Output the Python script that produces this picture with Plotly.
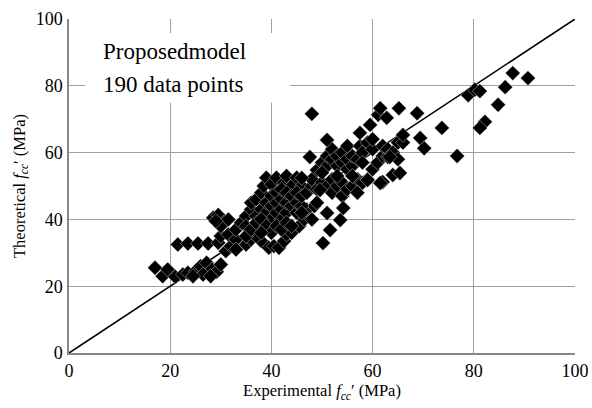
import plotly.graph_objects as go

# Experimental vs theoretical f_cc' (MPa) (190 points)
exp_fcc = [
    17, 18.5, 19.5, 21, 22.5, 23.5, 25, 26, 27.2, 28.3, 29.2, 30, 26.5, 24.5, 28,
    21.5, 23.5, 25.5, 27.5, 29.5, 31, 32, 30, 31.5, 33, 28.5, 29.5, 30.5, 30, 31.5, 29,
    33, 35, 36, 38, 39.5, 40.5, 41.5, 42.5, 43, 44, 45.5, 46.5, 47, 48.5,
    33, 34, 35, 36, 36, 37, 38, 38.5, 39, 40, 41, 42.5, 43, 44, 45, 46,
    35, 37, 38, 39, 39, 40, 40, 40, 41, 41, 41, 42, 42, 42, 42, 43, 43, 43,
    44, 44, 45, 45, 45, 46, 46, 37, 35, 46, 47, 48,
    36, 37, 38, 39, 40, 41, 42, 43, 44, 38,
    48, 49, 49, 50, 50, 51, 51, 51, 52, 52, 52, 52, 53, 53, 53, 54, 54, 54, 54,
    55, 55, 55, 55, 56, 56, 56, 57, 57, 57.5, 58, 58, 59, 59, 60, 60, 60,
    61, 62, 62, 63, 63, 64, 64, 65, 65, 66, 62, 59, 57, 61.5,
    50, 53, 56, 58,
    54.2, 53.6, 51.6, 50.2, 51, 49.6, 46, 49, 48,
    48, 51, 47.6, 57.5, 59.5, 61.1, 61.5, 62.8, 65.2, 68.8, 66, 69.4, 70.2, 73.7,
    76.7, 65.4, 63.4,
    78.9, 80.2, 81.2, 84.8, 82.2, 81.2, 86.2, 87.7, 90.7,
]
theo_fcc = [
    25.5, 23, 25, 22.8, 23.5, 24, 24.5, 26, 27, 25, 24.3, 26.5, 23.5, 23, 23,
    32.5, 32.8, 32.8, 32.8, 33, 30.5, 32, 35, 35.5, 34, 40.5, 41.3, 39, 38, 40, 39.5,
    31, 32.5, 34, 33.5, 31.5, 32, 31.5, 33.5, 35.5, 36, 38, 40, 43, 44,
    37, 39, 41, 43, 45, 46, 48, 50, 52.5, 50.5, 52.5, 51, 53, 50, 52.5, 50,
    38, 41, 43, 42, 45, 40, 44, 47, 42, 45, 48, 43, 46, 49, 40, 42, 45, 48,
    44, 47, 42, 45, 48, 44, 47, 35, 35, 42, 48, 50,
    37, 39, 40, 38, 36, 38, 37, 39, 38, 36,
    52, 49, 54.8, 51, 57, 50, 56, 59, 48, 52, 58, 61, 50, 56, 59, 47, 51, 57, 60,
    49, 55, 58, 62, 50, 56, 59, 52, 58, 62, 51, 60, 52, 63, 55, 61, 64,
    57, 59, 62, 58.7, 61, 53.3, 60, 58, 63, 63, 51.2, 51.8, 48, 50.9,
    54, 53, 53, 57,
    43.4, 39.8, 36.8, 32.9, 41.9, 48.8, 52.4, 45, 40,
    71.6, 63.8, 58.7, 65.9, 68.3, 71.3, 73.3, 70.4, 73.3, 71.8, 65.3, 64.4, 61.3, 67.4,
    59, 53.9, 58.7,
    77.2, 78.8, 78.4, 74.3, 69.2, 67.4, 79.6, 83.8, 82.3,
]
line_x = [0, 100]
line_y = [0, 100]
tick_vals = [0, 20, 40, 60, 80, 100]
note_lines = ["Proposedmodel", "190 data points"]

FONT = "Liberation Serif, Times New Roman, serif"

fig = go.Figure()
fig.add_trace(go.Scatter(x=line_x, y=line_y, mode="lines",
                         line=dict(color="black", width=1.6), hoverinfo="skip"))
fig.add_trace(go.Scatter(x=exp_fcc, y=theo_fcc, mode="markers",
                         marker=dict(symbol="diamond", size=11.5, color="black",
                                     line=dict(color="white", width=0.4))))

axis_common = dict(range=[0, 100], tickvals=tick_vals, showgrid=True,
                   gridcolor="#a0a0a0", gridwidth=1.2, zeroline=False,
                   showline=True, linecolor="#888888", linewidth=1.5, mirror=False,
                   ticks="", ticklen=0, automargin=False,
                   tickfont=dict(family=FONT, size=18, color="black"),
                   fixedrange=True)

fig.update_xaxes(**axis_common, ticklabelstandoff=1,
                 title=dict(text="Experimental <i>f</i><sub><i>cc</i></sub>′ (MPa)",
                            font=dict(family=FONT, size=16.5, color="black"), standoff=2))
fig.update_yaxes(**axis_common, ticklabelstandoff=1,
                 title=dict(text="Theoretical <i>f</i><sub><i>cc</i></sub>′ (MPa)",
                            font=dict(family=FONT, size=16.5, color="black"), standoff=6))

fig.add_shape(type="rect", xref="x", yref="y", x0=3.2, x1=43.7, y0=74.9, y1=95.8,
              fillcolor="white", line=dict(width=0), layer="between")
fig.add_annotation(x=6.3, y=90.3, xref="x", yref="y", text=note_lines[0],
                   showarrow=False, xanchor="left", yanchor="middle",
                   font=dict(family=FONT, size=23, color="black"))
fig.add_annotation(x=6.3, y=80.4, xref="x", yref="y", text=note_lines[1],
                   showarrow=False, xanchor="left", yanchor="middle",
                   font=dict(family=FONT, size=23, color="black"))

fig.update_layout(width=592, height=408, margin=dict(l=69, r=17, t=19, b=55),
                  paper_bgcolor="white", plot_bgcolor="white", showlegend=False,
                  font=dict(family=FONT, color="black"))
fig.write_html("out.html")
